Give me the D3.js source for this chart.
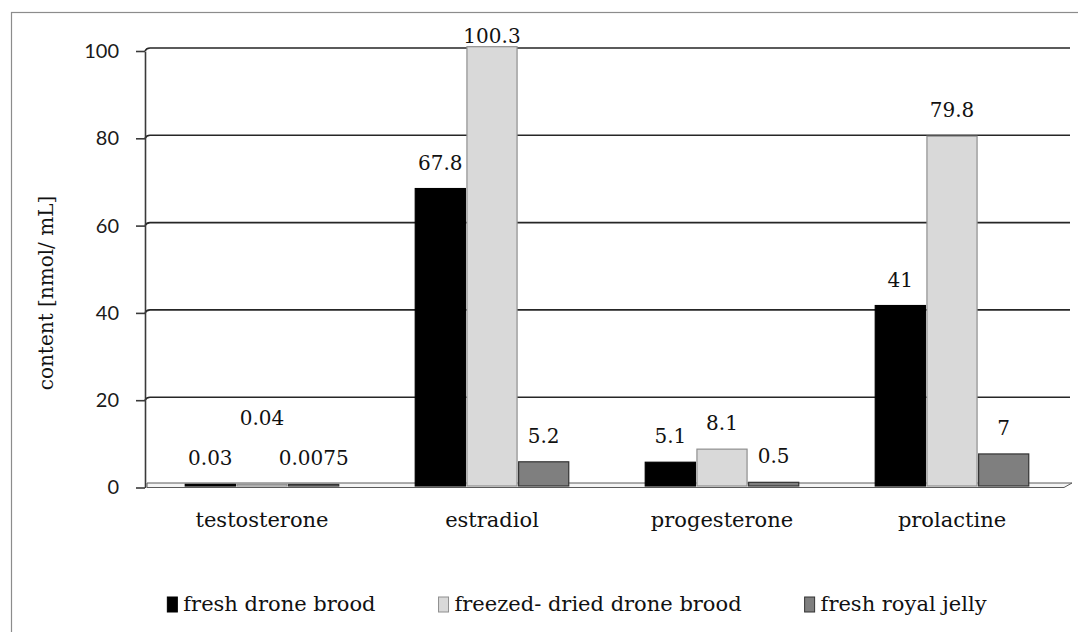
<!DOCTYPE html>
<html>
<head>
<meta charset="utf-8">
<script src="https://cdn.jsdelivr.net/npm/d3@7"></script>
<style>
  body { margin: 0; background: #fff; }
  svg { display: block; }
</style>
</head>
<body>
<svg id="chart" width="1078" height="632"></svg>
<script>
// Hormone content per product, nmol/mL
const categories = ["testosterone", "estradiol", "progesterone", "prolactine"];
const seriesNames = ["fresh drone brood", "freezed- dried drone brood", "fresh royal jelly"];
const freshDroneBrood = [0.03, 67.8, 5.1, 41];
const freezeDriedDroneBrood = [0.04, 100.3, 8.1, 79.8];
const freshRoyalJelly = [0.0075, 5.2, 0.5, 7];
const yTicks = [0, 20, 40, 60, 80, 100];
const yTitle = "content [nmol/ mL]";

const seriesValues = [freshDroneBrood, freezeDriedDroneBrood, freshRoyalJelly];
const fills = ["#000000", "#d9d9d9", "#7f7f7f"];
const strokes = ["#000000", "#8f8f8f", "#333333"];

const serif = "'DejaVu Serif', serif";
const svg = d3.select("#chart");

// outer chart border
svg.append("rect")
  .attr("x", 11.5).attr("y", 12.5)
  .attr("width", 1100).attr("height", 640)
  .attr("fill", "none").attr("stroke", "#8c8c8c").attr("stroke-width", 1.2);

const plotLeft = 147, plotRight = 1067, gridRight = 1070;
const y = d3.scaleLinear().domain([0, 100]).range([484.5, 48]);
const x0 = d3.scaleBand().domain(categories).range([plotLeft, plotRight]).padding(0);
const x1 = d3.scaleBand().domain(d3.range(seriesNames.length))
  .range([0, x0.bandwidth()]).paddingInner(0.03).paddingOuter(0.74);

// back wall gridlines, bent at the left where they meet the side wall
svg.append("g").selectAll("path")
  .data(yTicks.filter(t => t > 0))
  .join("path")
  .attr("d", t => `M145,${y(t) + 3} Q146.5,${y(t)} 150,${y(t)} L${gridRight},${y(t)}`)
  .attr("fill", "none").attr("stroke", "#262626").attr("stroke-width", 1.6);

// floor
const f0 = y(0);
svg.append("path")
  .attr("d", `M${plotLeft},${f0 - 1.5} L${gridRight + 2},${f0 - 1.5} L${gridRight - 6},${f0 + 3} L${plotLeft},${f0 + 3} Z`)
  .attr("fill", "#f4f4f4").attr("stroke", "#5a5a5a").attr("stroke-width", 1);

// value axis
const axis = svg.append("g")
  .attr("transform", "translate(145,3)")
  .call(d3.axisLeft(y).tickValues(yTicks).tickSize(9).tickSizeOuter(0).tickPadding(17).tickFormat(d3.format("d")));
axis.select(".domain").attr("stroke", "#3a3a3a").attr("stroke-width", 1.6);
axis.selectAll(".tick line").attr("stroke", "#3a3a3a").attr("stroke-width", 1.6);
axis.selectAll(".tick text")
  .attr("font-family", "Lato, sans-serif").attr("font-size", 20).attr("fill", "#1a1a1a");

// bars
const rows = [];
categories.forEach((c, ci) => seriesValues.forEach((vals, si) => rows.push({ c, ci, si, v: vals[ci] })));

svg.append("g").selectAll("rect")
  .data(rows)
  .join("rect")
  .attr("x", d => x0(d.c) + x1(d.si))
  .attr("y", d => y(d.v))
  .attr("width", x1.bandwidth())
  .attr("height", d => y(0) - y(d.v) + 1.5)
  .attr("fill", d => fills[d.si])
  .attr("stroke", d => strokes[d.si])
  .attr("stroke-width", 1.2);

// data labels, lifted when they crowd the neighbouring label
const labels = svg.append("g").selectAll("text")
  .data(rows)
  .join("text")
  .attr("x", d => x0(d.c) + x1(d.si) + x1.bandwidth() / 2)
  .attr("y", d => Math.max(y(d.v) - 19, 43))
  .attr("text-anchor", "middle")
  .attr("font-family", serif).attr("font-size", 20).attr("fill", "#111")
  .text(d => String(d.v));

const placed = [];
labels.each(function (d) {
  const w = this.getComputedTextLength();
  let by = +this.getAttribute("y");
  const bx = +this.getAttribute("x");
  const prev = placed.find(p => p.ci === d.ci && p.si === d.si - 1);
  if (prev && Math.abs(prev.by - by) < 16 && (bx - w / 2) - (prev.bx + prev.w / 2) < 12) {
    by = prev.by - 40;
    d3.select(this).attr("y", by);
  }
  placed.push({ ci: d.ci, si: d.si, bx, by, w });
});

// category labels
svg.append("g").selectAll("text")
  .data(categories)
  .join("text")
  .attr("x", c => x0(c) + x0.bandwidth() / 2)
  .attr("y", 527)
  .attr("text-anchor", "middle")
  .attr("font-family", serif).attr("font-size", 21).attr("fill", "#111")
  .text(c => c);

// axis title
svg.append("text")
  .attr("transform", "translate(53,293) rotate(-90)")
  .attr("text-anchor", "middle")
  .attr("font-family", serif).attr("font-size", 20).attr("fill", "#111")
  .text(yTitle);

// legend
const legend = svg.append("g");
const items = legend.selectAll("g")
  .data(seriesNames)
  .join("g");
items.append("rect")
  .attr("width", 10).attr("height", 15).attr("y", -14)
  .attr("fill", (d, i) => fills[i]).attr("stroke", (d, i) => strokes[i]).attr("stroke-width", 1);
items.append("text")
  .attr("x", 16)
  .attr("font-family", serif).attr("font-size", 21).attr("fill", "#111")
  .text(d => d);
const widths = [];
items.each(function () { widths.push(this.getBBox().width); });
const gap = 63;
const total = d3.sum(widths) + gap * (widths.length - 1);
let cursor = 577 - total / 2;
items.attr("transform", (d, i) => {
  const t = `translate(${cursor},611)`;
  cursor += widths[i] + gap;
  return t;
});
</script>
</body>
</html>
